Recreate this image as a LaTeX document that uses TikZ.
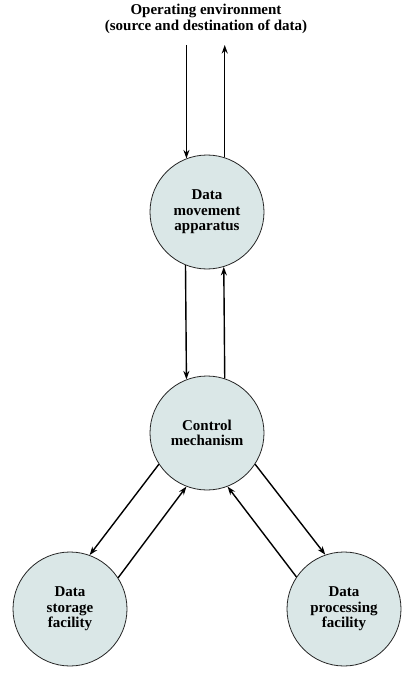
\documentclass[tikz,border=0pt]{standalone}
\usepackage{fontspec}
\setmainfont{Liberation Serif}
\usetikzlibrary{arrows.meta}
\definecolor{unitfill}{HTML}{DAE7E7}
\tikzset{
  unit/.style={circle, draw=black!85, line width=0.8pt, fill=unitfill,
    minimum size=114pt, inner sep=0pt, align=center,
    font=\fontsize{15}{15.5}\selectfont\bfseries},
  flow/.style={line width=1.4pt, -{Stealth[length=8.5pt,width=6pt]}},
  caption/.style={align=center, font=\fontsize{15}{16}\selectfont\bfseries}
}
\begin{document}
\begin{tikzpicture}[x=1pt,y=-1pt]
  \useasboundingbox (0,0) rectangle (413,676);

  % operating environment label and the level its arrows reach
  \node[caption] (env) at (206,19) {Operating environment\\(source and destination of data)};
  \coordinate (envY) at (0,45);

  % functional units
  \node[unit] (mov)  at (207,212) {Data\\movement\\apparatus};
  \node[unit] (ctrl) at (207,433) {Control\\mechanism};
  \node[unit] (stor) at (70,609)  {Data\\storage\\facility};
  \node[unit] (proc) at (344,609) {Data\\processing\\facility};

  % environment <-> data movement
  \draw[flow] (mov.111.6 |- envY) -- (mov.111.6);
  \draw[flow] (mov.72.6) -- (mov.72.6 |- envY);

  % data movement <-> control
  \draw[flow] (mov.248.4) -- (ctrl.111.6);
  \draw[flow] (ctrl.72.6) -- (mov.287.4);

  % control <-> storage
  \draw[flow] (ctrl.213) -- (stor.70.7);
  \draw[flow] (stor.33.4) -- (ctrl.249);

  % control <-> processing
  \draw[flow] (ctrl.327) -- (proc.109.3);
  \draw[flow] (proc.146.6) -- (ctrl.291);
\end{tikzpicture}
\end{document}
